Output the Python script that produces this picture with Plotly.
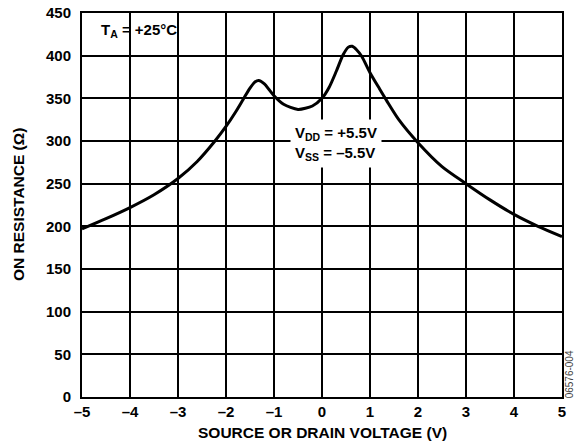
import plotly.graph_objects as go

voltage = [-5, -4.5, -4, -3.5, -3, -2.6, -2.23, -2, -1.8, -1.64, -1.5, -1.4, -1.32, -1.2, -1.1, -1.0, -0.8, -0.5, -0.2, 0, 0.15, 0.3, 0.44, 0.55, 0.63, 0.72, 0.83, 1.0, 1.2, 1.35, 1.6, 2.0, 2.5, 3.0, 3.5, 4.0, 4.5, 5.0]
resistance = [197, 209, 222, 237, 256, 276, 300, 317, 334, 349, 362, 369, 371, 367, 360, 353, 343, 337, 341, 350, 363, 382, 401, 410, 411, 407, 399, 380, 361, 347, 325, 298, 270, 250, 231, 214, 200, 188]

x_ticks = [-5, -4, -3, -2, -1, 0, 1, 2, 3, 4, 5]
x_ticktext = ["–5", "–4", "–3", "–2", "–1", "0", "1", "2", "3", "4", "5"]
y_ticks = [0, 50, 100, 150, 200, 250, 300, 350, 400, 450]

FONT = "Arial, Liberation Sans, sans-serif"
TICK_SIZE = 15
TITLE_SIZE = 15.5

fig = go.Figure()
fig.add_trace(go.Scatter(x=voltage, y=resistance, mode="lines",
                         line=dict(color="black", width=3, shape="spline", smoothing=0.7),
                         hoverinfo="skip", showlegend=False))

fig.update_layout(
    width=574, height=444,
    margin=dict(l=82, r=12, t=13, b=47, autoexpand=False),
    paper_bgcolor="white", plot_bgcolor="white",
    font=dict(family=FONT, color="black", size=TICK_SIZE),
    xaxis=dict(range=[-5, 5], tickvals=x_ticks, ticktext=["<b>%s</b>" % t for t in x_ticktext],
               showgrid=True, gridcolor="black", gridwidth=1.5, zeroline=False,
               showline=True, linecolor="black", linewidth=2, mirror=True, automargin=False,
               ticks="", tickfont=dict(size=TICK_SIZE, family=FONT), fixedrange=True),
    yaxis=dict(range=[0, 450], tickvals=y_ticks, ticktext=["<b>%d</b>" % t for t in y_ticks],
               showgrid=True, gridcolor="black", gridwidth=1.5, zeroline=False,
               showline=True, linecolor="black", linewidth=2, mirror=True, automargin=False,
               ticks="", ticklabelstandoff=6, tickfont=dict(size=TICK_SIZE, family=FONT), fixedrange=True),
    annotations=[
        dict(text="<b>T<sub>A</sub> = +25°C</b>", x=-4.65, y=443, xref="x", yref="y",
             xanchor="left", yanchor="top", showarrow=False, font=dict(size=15, family=FONT)),
        dict(text="<b>V<sub>DD</sub> = +5.5V<br>V<sub>SS</sub> = –5.5V</b>", x=0.3, y=297,
             xref="x", yref="y", xanchor="center", yanchor="middle", showarrow=False,
             bgcolor="white", borderpad=4, align="left", font=dict(size=15, family=FONT)),
        dict(text="<b>ON RESISTANCE (Ω)</b>", x=(18 - 82) / 480.0, y=0.5, xref="paper",
             yref="paper", showarrow=False, textangle=-90, font=dict(size=TITLE_SIZE, family=FONT),
             xanchor="center", yanchor="middle"),
        dict(text="<b>SOURCE OR DRAIN VOLTAGE (V)</b>", x=0.5, y=-(422 - 397) / 384.0, xref="paper", yref="paper",
             xanchor="center", yanchor="top", showarrow=False, font=dict(size=TITLE_SIZE, family=FONT)),
        dict(text="06576-004", x=1.0, y=-0.01, xref="paper", yref="paper", xanchor="left",
             yanchor="bottom", xshift=0, showarrow=False, textangle=-90,
             font=dict(size=10, family=FONT, color="#444")),
    ],
)

fig.write_html("out.html")
